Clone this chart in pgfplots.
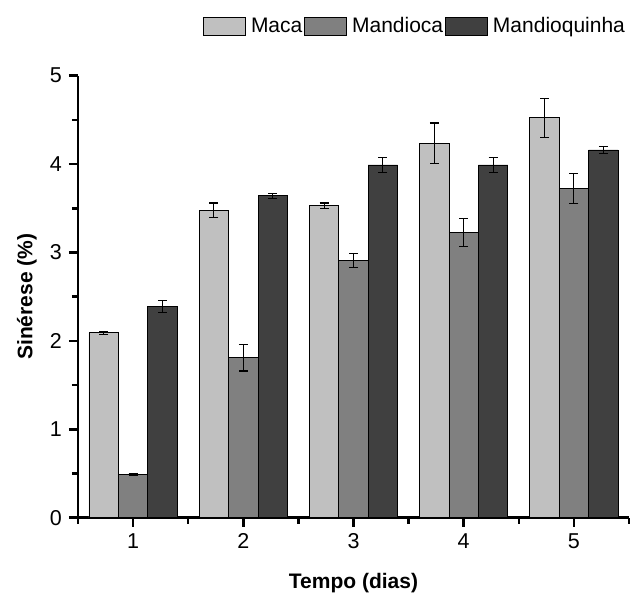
\documentclass[border=0pt]{standalone}
\usepackage{fontspec}
\setmainfont{Liberation Sans}
\usepackage{pgfplots}
\pgfplotsset{compat=1.18}

\definecolor{cmaca}{RGB}{192,192,192}
\definecolor{cmandioca}{RGB}{128,128,128}
\definecolor{cmandioquinha}{RGB}{64,64,64}

\begin{document}
\fontsize{21bp}{25bp}\selectfont
\begin{tikzpicture}
\begin{axis}[
    at={(0,0)}, anchor=south west,
    scale only axis,
    width=551bp, height=442bp,
    xmin=0.5, xmax=5.5, ymin=0, ymax=5,
    axis lines*=left,
    axis line style={line width=2.5bp, black},
    every tick/.style={line width=2.5bp, black},
    tick align=outside,
    major tick length=9bp, minor tick length=6bp,
    xtick={1,2,3,4,5},
    extra x ticks={0.5,1.5,2.5,3.5,4.5,5.5},
    extra x tick labels={},
    extra x tick style={major tick length=6bp},
    ytick={0,1,2,3,4,5}, minor ytick={0.5,1.5,2.5,3.5,4.5},
    xtick pos=bottom, ytick pos=left,
    /pgf/number format/assume math mode=true,
    tick label style={font=\fontsize{21.5bp}{25bp}\selectfont},
    xlabel={\bfseries Tempo (dias)},
    ylabel={\bfseries Sinérese (\%)},
    label style={font=\fontsize{21bp}{25bp}\selectfont},
    x label style={at={(axis description cs:0.5,-0.149)}, anchor=center},
    y label style={at={(axis description cs:-0.0926,0.5)}, anchor=center},
    ybar=0pt, bar width=29.4bp,
    legend columns=3,
    legend style={draw=none, fill=none, at={(axis description cs:1.002,1.111)}, anchor=east,
        font=\fontsize{21bp}{25bp}\selectfont,
        /tikz/every odd column/.append style={column sep=3bp},
        /tikz/every even column/.append style={column sep=0bp}},
    legend image code/.code={\draw[#1, line width=0.8bp] (0bp,-9bp) rectangle (42bp,9bp);},
    error bars/y dir=both, error bars/y explicit,
    error bars/error bar style={line width=1.1bp, black},
    error bars/error mark options={rotate=90, mark size=4.5bp, line width=1.1bp, black},
    clip=false,
]
\addplot[fill=cmaca, draw=black, line width=0.9bp] coordinates {
    (1,2.09) +- (0,0.02)
    (2,3.48) +- (0,0.08)
    (3,3.53) +- (0,0.03)
    (4,4.235) +- (0,0.23)
    (5,4.525) +- (0,0.22)
};
\addplot[fill=cmandioca, draw=black, line width=0.9bp] coordinates {
    (1,0.49) +- (0,0.01)
    (2,1.81) +- (0,0.15)
    (3,2.91) +- (0,0.08)
    (4,3.224) +- (0,0.16)
    (5,3.72) +- (0,0.17)
};
\addplot[fill=cmandioquinha, draw=black, line width=0.9bp] coordinates {
    (1,2.39) +- (0,0.07)
    (2,3.64) +- (0,0.03)
    (3,3.99) +- (0,0.08)
    (4,3.99) +- (0,0.08)
    (5,4.16) +- (0,0.04)
};
\legend{Maca,Mandioca,Mandioquinha}
\end{axis}
\pgfresetboundingbox
\path[use as bounding box] (-78bp,-83.3bp) rectangle (555bp,517.7bp);
\end{tikzpicture}
\end{document}
